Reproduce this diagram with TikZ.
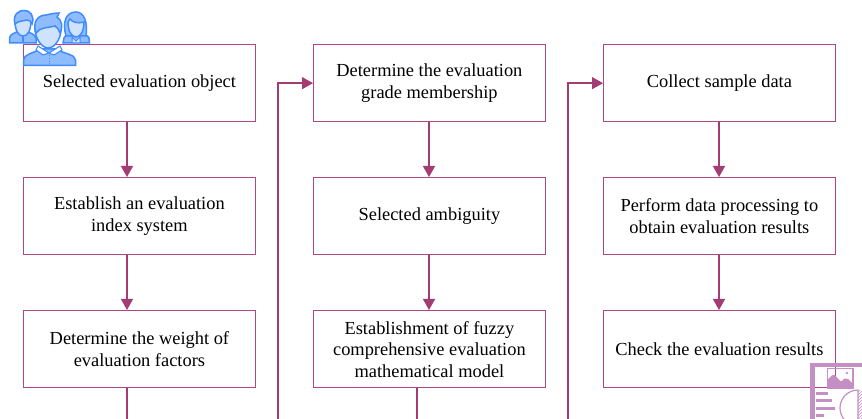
\documentclass[tikz,border=0pt]{standalone}
\usepackage{fontspec}
\setmainfont{Liberation Serif}
\usetikzlibrary{arrows.meta,patterns}
\definecolor{flow}{HTML}{A23C72}
\definecolor{boxline}{HTML}{B0487F}
\definecolor{iconline}{HTML}{3F8CFF}
\definecolor{iconfill}{HTML}{CFE3FF}
\definecolor{iconmid}{HTML}{8FBCFF}
\definecolor{docline}{HTML}{C48FC4}
\tikzset{
  flowbox/.style={draw=boxline,line width=0.8pt,fill=white,minimum width=232pt,minimum height=77.5pt,align=center,inner sep=0pt,font=\fontsize{18.4}{21.5}\selectfont,anchor=north west},
  conn/.style={draw=flow,line width=1.3pt},
  arrowed/.style={conn,-{Triangle[length=11pt,width=12pt]}},
  headshape/.style={draw=iconline,line width=1.5pt,fill=iconfill},
  bodyshape/.style={draw=iconline,line width=1.5pt,fill=iconmid},
  hairshape/.style={draw=iconline,line width=1.5pt,fill=iconmid},
  docstroke/.style={draw=docline,line width=2.6pt},
}
\begin{document}
\begin{tikzpicture}[x=1pt,y=-1pt]
\useasboundingbox (0,0) rectangle (862,419);
\clip (0,0) rectangle (862,419);
\node[flowbox] (a1) at (23,44) {Selected evaluation object};
\node[flowbox] (a2) at (23,177) {Establish an evaluation\\index system};
\node[flowbox] (a3) at (23,310) {Determine the weight of\\evaluation factors};
\node[flowbox] (b1) at (313,44) {Determine the evaluation\\grade membership};
\node[flowbox] (b2) at (313,177) {Selected ambiguity};
\node[flowbox] (b3) at (313,310) {Establishment of fuzzy\\comprehensive evaluation\\mathematical model};
\node[flowbox] (c1) at (603,44) {Collect sample data};
\node[flowbox] (c2) at (603,177) {Perform data processing to\\obtain evaluation results};
\node[flowbox] (c3) at (603,310) {Check the evaluation results};
\coordinate (a3out) at (127,419);
\coordinate (b1in) at (278,419);
\coordinate (b3out) at (417,419);
\coordinate (c1in) at (568,419);
\draw[arrowed] (a1.south -| 127,0) -- (a2.north -| 127,0);
\draw[arrowed] (a2.south -| 127,0) -- (a3.north -| 127,0);
\draw[arrowed] (b1.south -| 429,0) -- (b2.north -| 429,0);
\draw[arrowed] (b2.south -| 429,0) -- (b3.north -| 429,0);
\draw[arrowed] (c1.south -| 719,0) -- (c2.north -| 719,0);
\draw[arrowed] (c2.south -| 719,0) -- (c3.north -| 719,0);
\draw[conn] (a3.south -| a3out) -- (a3out);
\draw[conn] (b3.south -| b3out) -- (b3out);
\draw[arrowed] (b1in) -- (b1in |- b1.west) -- (b1.west);
\draw[arrowed] (c1in) -- (c1in |- c1.west) -- (c1.west);
% people icon: left person
\draw[bodyshape] (9.5,43) -- (9.5,38) .. controls (10,34) and (15,33) .. (19,31) -- (26,31) .. controls (30,33) and (35,34) .. (36,38) -- (36,43) -- cycle;
\draw[headshape] (15,20) .. controls (15,32) and (19,36) .. (23,36) .. controls (27,36) and (31,32) .. (31,20) -- cycle;
\draw[hairshape] (15,24) .. controls (12,14) and (20,10) .. (24,10.5) .. controls (30,10) and (35,16) .. (32,24) .. controls (31,21) and (29,20) .. (27,20) .. controls (23,21) and (18,21) .. (15,24) -- cycle;
\draw[draw=iconline,line width=1.2pt] (23,36) -- (23,43);
% right person
\draw[bodyshape] (63,43) -- (64,38) .. controls (65,35) and (70,34) .. (72,32) -- (80,32) .. controls (83,34) and (88,35) .. (89,38) -- (89.5,43) -- cycle;
\draw[hairshape] (66,36) .. controls (62,22) and (66,12) .. (76,12) .. controls (84,12) and (88,22) .. (86,36) -- cycle;
\draw[headshape] (68,22) .. controls (68,32) and (72,37) .. (76,37) .. controls (80,37) and (84,32) .. (84,22) .. controls (78,24) and (72,22) .. (70,19) -- cycle;
\draw[draw=iconline,line width=1pt,fill=iconfill] (72,37) -- (76,41) -- (80,37) -- (80,43) -- (72,43) -- cycle;
% centre person
\draw[bodyshape] (23.5,65.5) -- (23.5,60) .. controls (24,54) and (32,54) .. (40,49) -- (56,49) .. controls (64,54) and (75,54) .. (75.5,60) -- (75.5,65.5) -- cycle;
\draw[draw=iconline,line width=1.1pt,fill=white] (38,46) -- (49,53) -- (60,46) -- (62,50) -- (54,55) -- (49,53) -- (43,55) -- (36,50) -- cycle;
\draw[draw=iconline,line width=0.8pt,dotted] (49,55) -- (49,65);
\draw[headshape] (35,26) .. controls (34,38) and (42,48) .. (48,48) .. controls (55,48) and (62,38) .. (61,26) -- cycle;
\draw[hairshape] (36,33) .. controls (32,22) and (38,15) .. (46,15) .. controls (50,14) and (56,13) .. (59,13) .. controls (58,15) and (58,16) .. (57,17) .. controls (62,20) and (63,27) .. (60,33) .. controls (59,30) and (57,27) .. (55,26) .. controls (48,28) and (40,27) .. (36,33) -- cycle;
% document icon
\draw[docstroke,line width=4.2pt] (812.5,419) -- (812.5,365) -- (862,365);
\draw[draw=docline,line width=1.3pt] (827.5,368.5) rectangle (853,388);
\fill[docline] (827,388) -- (827,380) .. controls (830,378) and (832,374) .. (834,375) .. controls (837,376) and (840,383) .. (842,381) .. controls (844,378) and (846,378) .. (848,379) -- (853,384) -- (853,388) -- cycle;
\fill[docline] (847,373) circle (1.4);
\draw[docstroke,line width=3pt] (816,393.5) -- (828,393.5);
\draw[docstroke,line width=3pt] (816,400.5) -- (832,400.5);
\draw[docstroke,line width=3pt] (816,408) -- (835,408);
\draw[docstroke,line width=3pt] (816,415.5) -- (824,415.5);
\fill[pattern=north east lines,pattern color=docline] (858,390) arc (-90:90:18) -- cycle;
\draw[draw=docline,line width=1.2pt] (858,390) arc (-90:-270:18) -- cycle;
\end{tikzpicture}
\end{document}
